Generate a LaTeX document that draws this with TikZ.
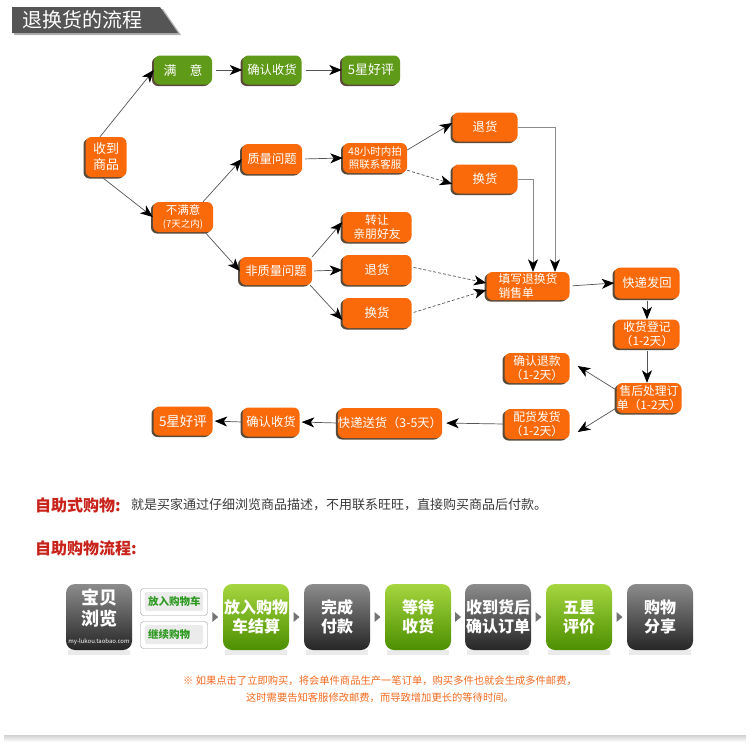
\documentclass[tikz,border=0pt]{standalone}
\usepackage{fontspec}
\setmainfont{Noto Sans CJK SC}
\usetikzlibrary{arrows.meta,shadows,calc}
\definecolor{org}{HTML}{FA6A0A}
\definecolor{grn}{HTML}{5F9A18}
\definecolor{lnc}{HTML}{555555}
\definecolor{redt}{HTML}{C8231B}
\definecolor{desc}{HTML}{3A3A3A}
\definecolor{notec}{HTML}{F26B21}
\definecolor{hdr}{HTML}{555555}
\definecolor{shd}{HTML}{5A4A3A}
\definecolor{gtop}{HTML}{A6D640}
\definecolor{gbot}{HTML}{4C8F00}
\definecolor{dtop}{HTML}{8C8C8C}
\definecolor{dbot}{HTML}{262626}
\definecolor{gtxt}{HTML}{2F9A22}
\tikzset{
  sz/.style 2 args={minimum width=#1, minimum height=#2},
  box/.style={rounded corners=6pt, text=white, font=\fontsize{12.3}{14}\selectfont, align=center, inner sep=0pt,
    drop shadow={shadow xshift=-2pt, shadow yshift=-1.5pt, fill=shd, opacity=1}},
  ob/.style={box, fill=org},
  gb/.style={box, fill=grn},
  ar/.style={draw=lnc, line width=0.7pt, -{Stealth[length=12.5pt,width=10pt,inset=3.5pt,color=black]}},
  sbox/.style={rounded corners=9pt, minimum width=66pt, minimum height=66pt, inner sep=0pt, text=white, align=center,
    font=\fontsize{16}{19}\selectfont\bfseries},
  sgreen/.style={sbox, top color=gtop, bottom color=gbot},
  sdark/.style={sbox, top color=dtop, bottom color=dbot},
  wbox/.style={draw=black!40, fill=white, rounded corners=3pt, minimum width=67pt, minimum height=27pt, inner sep=0pt},
  tri/.style={fill=black!55}
}
\begin{document}
\begin{tikzpicture}[x=1pt,y=-1pt]
\useasboundingbox (0,0) rectangle (750,756);
\fill[white] (0,0) rectangle (750,756);
% header
\fill[black!30] (14,9) -- (163,9) -- (181,35) -- (14,35) -- cycle;
\fill[hdr] (12,7) -- (160,7) -- (178,33) -- (12,33) -- cycle;
\node[anchor=west, text=white, font=\fontsize{20}{22}\selectfont, inner sep=0pt] (title) at (22,20) {退换货的流程};

% nodes
\node[gb,sz={58pt}{29pt}, font=\fontsize{13}{15}\selectfont] (my) at (183,70) {满\quad 意};
\node[gb,sz={59pt}{29pt}] (qr1) at (272,70) {确认收货};
\node[gb,sz={58pt}{29pt}, font=\fontsize{13}{15}\selectfont] (hp1) at (371,70) {5星好评};
\node[ob,sz={41pt}{40pt}, font=\fontsize{13}{16}\selectfont] (sd) at (106,157) {收到\\商品};
\node[ob,sz={60pt}{30pt}, font=\fontsize{11.5}{13}\selectfont] (bmy) at (183,217) {不满意\\{\fontsize{9.5}{11}\selectfont (7天之内)}};
\node[ob,sz={60pt}{30pt}] (zl) at (272,159) {质量问题};
\node[ob,sz={64pt}{30pt}, font=\fontsize{10.5}{12.5}\selectfont] (h48) at (375,158) {48小时内拍\\照联系客服};
\node[ob,sz={65pt}{29pt}] (th1) at (485,127) {退货};
\node[ob,sz={65pt}{29pt}] (hh1) at (485,179) {换货};
\node[ob,sz={72pt}{28pt}] (fzl) at (276,271) {非质量问题};
\node[ob,sz={69pt}{30pt}, font=\fontsize{11.8}{13.5}\selectfont] (zr) at (377,227) {转让\\亲朋好友};
\node[ob,sz={69pt}{30pt}] (th2) at (377,270) {退货};
\node[ob,sz={69pt}{30pt}] (hh2) at (377,313) {换货};
\node[ob,sz={83pt}{28pt}, align=left, font=\fontsize{11.8}{13.5}\selectfont] (tx) at (528,286) {填写退换货\\销售单};
\node[ob,sz={65pt}{31pt}] (kd) at (647,283) {快递发回};
\node[ob,sz={65pt}{29pt}, font=\fontsize{11.8}{13.5}\selectfont] (sh) at (647,334) {收货登记\\（1-2天）};
\node[ob,sz={65pt}{30pt}, font=\fontsize{11.8}{13.5}\selectfont] (shcl) at (649,398) {售后处理订\\单（1-2天）};
\node[ob,sz={65pt}{30pt}, font=\fontsize{11.8}{13.5}\selectfont] (qrtk) at (537,368) {确认退款\\（1-2天）};
\node[ob,sz={65pt}{30pt}, font=\fontsize{11.8}{13.5}\selectfont] (ph) at (537,424) {配货发货\\（1-2天）};
\node[ob,sz={96pt}{30pt}] (ks) at (390,423) {快递送货（3-5天）};
\node[ob,sz={57pt}{29pt}] (qr2) at (271,422) {确认收货};
\node[ob,sz={59pt}{29pt}, font=\fontsize{13.5}{15}\selectfont] (hp2) at (183,421) {5星好评};

% connectors
\draw[ar] ([xshift=-6pt]sd.north) -- (my.west);
\draw[ar] ([xshift=-4pt]sd.south) -- (bmy.west);
\draw[ar, shorten <=4pt] (my.east) -- (qr1.west);
\draw[ar, shorten <=4pt] (qr1.east) -- (hp1.west);
\draw[ar] ([xshift=20pt]bmy.north) -- (zl.west);
\draw[ar] ([xshift=22pt]bmy.south) -- (fzl.west);
\draw[ar, shorten <=3pt] (zl.east) -- (h48.west);
\draw[ar] ([yshift=8pt]h48.east) -- ([yshift=4pt]th1.west);
\draw[ar, densely dashed] ([yshift=3pt]h48.south east) -- ([yshift=-5pt]hh1.west);
\draw[ar, draw=black!45] (th1.east) -| ([xshift=27pt]tx.north);
\draw[ar, draw=black!45] (hh1.east) -| ([xshift=5pt]tx.north);
\draw[ar] (fzl.north east) -- ([yshift=5pt]zr.west);
\draw[ar, shorten <=2pt] (fzl.east) -- (th2.west);
\draw[ar] ([xshift=-2pt]fzl.south east) -- ([yshift=-7pt]hh2.west);
\draw[ar, densely dashed, shorten <=2pt] ([yshift=3pt]th2.east) -- ([yshift=3pt]tx.west);
\draw[ar, densely dashed, shorten <=2pt] (hh2.east) -- ([yshift=-4pt]tx.west);
\draw[ar, shorten <=3pt] (tx.east) -- (kd.west);
\draw[ar, shorten <=2pt] (kd.south) -- (sh.north);
\draw[ar, shorten <=2pt] (sh.south) -- (sh.south |- shcl.north);
\draw[ar] ([yshift=8pt]shcl.west) -- ([xshift=8pt,yshift=2pt]qrtk.east);
\draw[ar] ([yshift=-10pt]shcl.west) -- ([xshift=8pt,yshift=-8pt]ph.east);
\draw[ar, shorten >=4pt] (ph.west) -- (ks.east);
\draw[ar, shorten >=2pt] (ks.west) -- (qr2.east);
\draw[ar, shorten >=2pt] (qr2.west) -- (hp2.east);

% self-service text
\node[anchor=west, text=redt, font=\fontsize{16}{18}\selectfont\bfseries, inner sep=0pt] (t1) at (35,505) {自助式购物:};
\node[anchor=west, text=desc, font=\fontsize{13}{15}\selectfont, inner sep=0pt] (t1d) at (131,505) {就是买家通过仔细浏览商品描述，不用联系旺旺，直接购买商品后付款。};
\node[anchor=west, text=redt, font=\fontsize{16}{18}\selectfont\bfseries, inner sep=0pt] (t2) at (35,548) {自助购物流程:};

% shopping flow
\foreach \cx in {99,256,337,418,498,579,660}{
  \fill[black!8] (\cx-31,650) rectangle (\cx+31,655);
}
\node[sdark, font=\fontsize{18}{21}\selectfont\bfseries] (s1) at (99,617) {};
\node[text=white, font=\fontsize{18}{21}\selectfont\bfseries, align=center, inner sep=0pt] (s1t) at (99,608) {宝贝\\浏览};
\node[text=white, font=\fontsize{6}{7}\selectfont, inner sep=0pt] (s1u) at (99,642) {my-lukou.taobao.com};
\node[wbox] (w1) at (174,602) {};
\node[wbox] (w2) at (174,635) {};
\fill[black!8, rounded corners=2pt] (145,592) rectangle (203,611);
\fill[black!8, rounded corners=2pt] (145,625) rectangle (203,644);
\node[anchor=west, text=gtxt, font=\fontsize{10.5}{12}\selectfont\bfseries, inner sep=0pt] (w1t) at (148,601) {放入购物车};
\node[anchor=west, text=gtxt, font=\fontsize{10.5}{12}\selectfont\bfseries, inner sep=0pt] (w2t) at (148,634) {继续购物};
\node[sgreen] (s2) at (256,617) {放入购物\\车结算};
\node[sdark] (s3) at (337,617) {完成\\付款};
\node[sgreen] (s4) at (418,617) {等待\\收货};
\node[sdark] (s5) at (498,617) {收到货后\\确认订单};
\node[sgreen] (s6) at (579,617) {五星\\评价};
\node[sdark] (s7) at (660,617) {购物\\分享};
\foreach \a/\b in {w1/s2,s2/s3,s3/s4,s4/s5,s5/s6,s6/s7}{
  \coordinate (m) at ($(\a.east)!0.5!(\b.west)$);
  \fill[tri] ($(m|-s2)+(-3,-5)$) -- ($(m|-s2)+(3,0)$) -- ($(m|-s2)+(-3,5)$) -- cycle;
}

% note
\node[text=notec, font=\fontsize{10.3}{12}\selectfont, inner sep=0pt] (n1) at (380,681) {※ 如果点击了立即购买，将会单件商品生产一笔订单，购买多件也就会生成多件邮费，};
\node[text=notec, font=\fontsize{10.3}{12}\selectfont, inner sep=0pt] (n2) at (380,698) {这时需要告知客服修改邮费，而导致增加更长的等待时间。};

% bottom shadow
\shade[top color=black!18, bottom color=white] (4,735) rectangle (746,742);
\end{tikzpicture}
\end{document}
